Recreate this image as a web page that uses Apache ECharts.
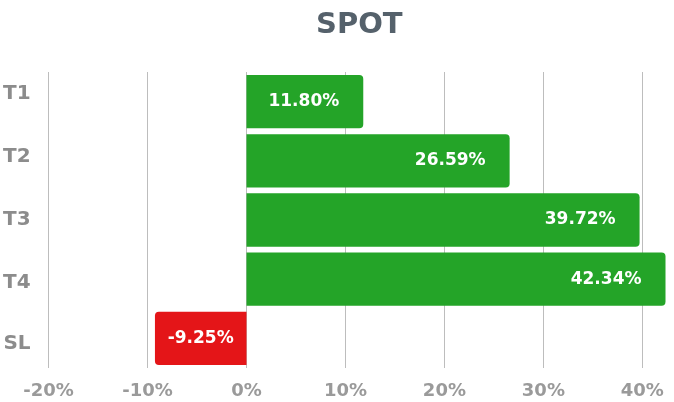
<!DOCTYPE html>
<html>
<head>
<meta charset="utf-8">
<script src="https://cdn.jsdelivr.net/npm/echarts@6/dist/echarts.min.js"></script>
<style>
html,body{margin:0;padding:0;background:#fff;}
#chart{width:674px;height:402px;}
</style>
</head>
<body>
<div id="chart"></div>
<script>
var categories = ['T1', 'T2', 'T3', 'T4', 'SL'];
var values = [11.80, 26.59, 39.72, 42.34, -9.25];
var titleText = 'SPOT';

var FONT = '"DejaVu Sans", sans-serif';
var chart = echarts.init(document.getElementById('chart'));

// per-bar style: green up, red down
var barData = values.map(function (v) {
    var neg = v < 0;
    return {
        value: v,
        itemStyle: {
            color: neg ? '#e41518' : '#24a428',
            borderRadius: neg ? [4, 0, 0, 4] : [0, 4, 4, 0]
        },
        label: neg ? { position: 'inside' } : {}
    };
});

var option = {
    animation: false,
    backgroundColor: '#fff',
    title: {
        text: titleText,
        left: 316,
        top: 11,
        padding: 0,
        textStyle: {
            fontFamily: FONT,
            fontWeight: 'bold',
            fontSize: 29,
            color: '#55616b'
        }
    },
    grid: {
        left: 47,
        right: 8.5,
        top: 72,
        bottom: 34,
        containLabel: false
    },
    xAxis: {
        type: 'value',
        min: -20,
        max: 'dataMax',
        interval: 10,
        axisLine: { show: false },
        axisTick: { show: false },
        splitLine: {
            show: true,
            showMaxLine: false,
            lineStyle: { color: '#bdbdbd', width: 1 }
        },
        axisLabel: {
            showMaxLabel: false,
            formatter: '{value}%',
            margin: 14,
            fontFamily: FONT,
            fontWeight: 'bold',
            fontSize: 18,
            color: '#9a9a9a'
        }
    },
    yAxis: {
        type: 'category',
        inverse: true,
        data: categories,
        axisLine: { show: false },
        axisTick: { show: false },
        splitLine: { show: false },
        axisLabel: {
            margin: 18,
            formatter: function (v, i) {
                return '{l' + i + '|' + v + '}';
            },
            rich: {
                l0: { padding: [0, 0, 16, 0] },
                l1: { padding: [0, 0, 8, 0] },
                l2: { padding: [0, 0, 1, 0] },
                l3: { padding: [7, 0, 0, 0] },
                l4: { padding: [11, 0, 0, 0] }
            },
            fontFamily: FONT,
            fontWeight: 'bold',
            fontSize: 20,
            color: '#8c8c8c'
        }
    },
    series: [{
        type: 'bar',
        data: barData,
        barCategoryGap: '10%',
        label: {
            show: true,
            position: 'insideRight',
            distance: 24,
            formatter: function (p) { return p.value.toFixed(2) + '%'; },
            fontFamily: FONT,
            fontWeight: 'bold',
            fontSize: 17,
            color: '#fff'
        }
    }]
};
chart.setOption(option);
</script>
</body>
</html>
